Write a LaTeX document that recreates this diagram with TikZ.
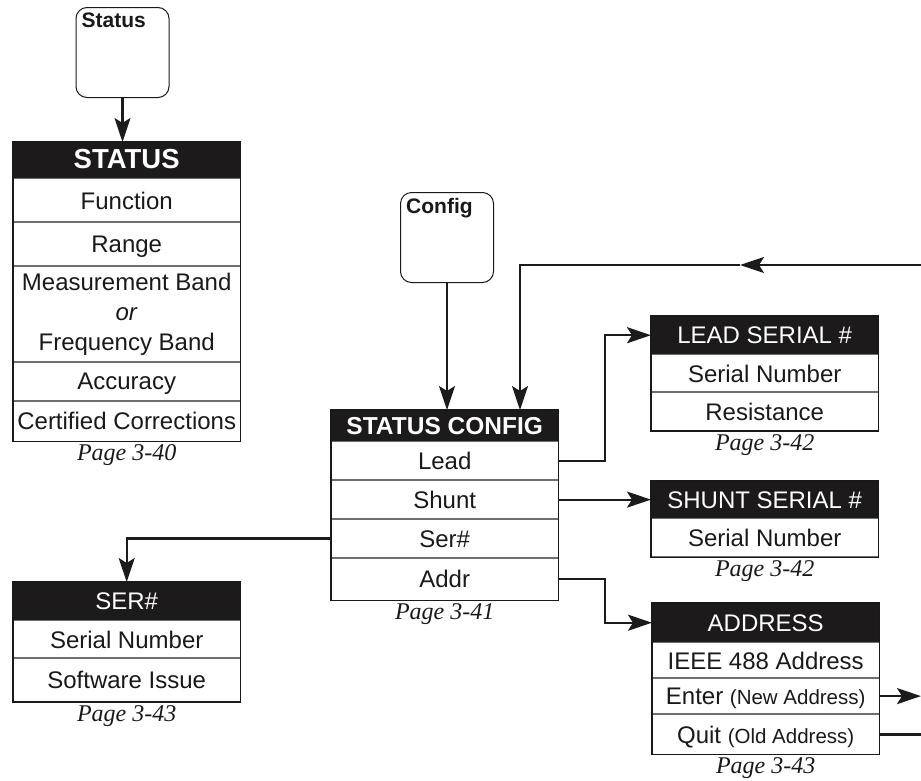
\documentclass[tikz,border=0pt]{standalone}
\usepackage{fontspec}
\setmainfont{Liberation Sans}
\newfontfamily\pagefont{Liberation Serif}
\usetikzlibrary{arrows.meta,positioning}
\definecolor{headblack}{RGB}{28,26,27}
\definecolor{textgray}{RGB}{25,25,25}
\definecolor{rulegray}{RGB}{110,110,110}

\begin{document}
\begin{tikzpicture}[x=1pt,y=-1pt,node distance=0pt,
  keybox/.style={draw=textgray,line width=1pt,rounded corners=11pt,minimum width=93pt,minimum height=90pt,inner sep=0pt},
  keytext/.style={anchor=north west,inner sep=0pt,text=textgray,font=\fontsize{21}{22}\selectfont\bfseries},
  menuhead/.style={fill=headblack,text=white,inner sep=0pt,minimum width=227pt,text height=17pt,text depth=0pt,font=\fontsize{24}{26}\selectfont},
  boldhead/.style={menuhead,font=\fontsize{24.5}{26}\selectfont\bfseries},
  menurow/.style={draw=rulegray,line width=0.8pt,inner sep=0pt,minimum width=227pt,text=textgray,font=\fontsize{24}{30}\selectfont},
  menuitem/.style={menurow,text height=17.5pt,text depth=0pt},
  menuframe/.style={draw=textgray,line width=1.1pt},
  pageref/.style={inner sep=0pt,text=textgray,font=\fontsize{24}{26}\pagefont\itshape},
  flow/.style={draw=headblack,line width=2.2pt,-{Stealth[length=24pt,width=16pt,inset=5pt]}},
  conn/.style={draw=headblack,line width=2.2pt},
]
  \useasboundingbox (0,0) rectangle (921,780);

  % keys
  \node[keybox] (statuskey) at (122.5,52.5) {};
  \node[keytext] (statuskeytext) at ([shift={(6,6)}]statuskey.north west) {Status};
  \node[keybox] (cfgkey) at (447,237.5) {};
  \node[keytext] (cfgkeytext) at ([shift={(6,6)}]cfgkey.north west) {Config};

  % STATUS
  \node[boldhead,font=\fontsize{27.5}{28}\selectfont\bfseries,anchor=north west,minimum height=36pt] (statushead) at (13,142) {STATUS};
  \node[menuitem,minimum height=43pt,below=of statushead] (statusfn) {Function};
  \node[menuitem,minimum height=43pt,below=of statusfn] (statusrange) {Range};
  \node[menurow,minimum height=95pt,align=center,below=of statusrange] (statusband) {Measurement Band\\\textit{or}\\Frequency Band};
  \node[menuitem,minimum height=38pt,below=of statusband] (statusacc) {Accuracy};
  \node[menuitem,minimum height=40pt,below=of statusacc] (statuscert) {Certified Corrections};
  \draw[menuframe] (statushead.north west) rectangle (statuscert.south east);
  \node[pageref,below=3pt of statuscert] (statuspage) {Page 3-40};

  % STATUS CONFIG
  \node[boldhead,anchor=north west,minimum height=31pt] (cfghead) at (331,410) {STATUS CONFIG};
  \node[menuitem,minimum height=38pt,below=of cfghead] (cfglead) {Lead};
  \node[menuitem,minimum height=38pt,below=of cfglead] (cfgshunt) {Shunt};
  \node[menuitem,minimum height=38pt,below=of cfgshunt] (cfgser) {Ser\#};
  \node[menuitem,minimum height=42pt,below=of cfgser] (cfgaddr) {Addr};
  \draw[menuframe] (cfghead.north west) rectangle (cfgaddr.south east);
  \node[pageref,below=3pt of cfgaddr] (cfgpage) {Page 3-41};

  % LEAD SERIAL #
  \node[menuhead,anchor=north west,minimum height=38pt] (leadhead) at (651,316) {LEAD SERIAL \#};
  \node[menuitem,minimum height=37pt,below=of leadhead] (leadser) {Serial Number};
  \node[menuitem,minimum height=38pt,below=of leadser] (leadres) {Resistance};
  \draw[menuframe] (leadhead.north west) rectangle (leadres.south east);
  \node[pageref,below=3pt of leadres] (leadpage) {Page 3-42};

  % SHUNT SERIAL #
  \node[menuhead,anchor=north west,minimum height=37pt] (shunthead) at (651,481) {SHUNT SERIAL \#};
  \node[menuitem,minimum height=38pt,below=of shunthead] (shuntser) {Serial Number};
  \draw[menuframe] (shunthead.north west) rectangle (shuntser.south east);
  \node[pageref,below=3pt of shuntser] (shuntpage) {Page 3-42};

  % ADDRESS
  \node[menuhead,anchor=north west,minimum height=39pt] (addrhead) at (652,603) {ADDRESS};
  \node[menuitem,minimum height=35pt,below=of addrhead] (addrieee) {IEEE 488 Address};
  \node[menuitem,minimum height=35pt,below=of addrieee] (addrenter) {Enter {\fontsize{20.5}{22}\selectfont(New Address)}};
  \node[menuitem,minimum height=40pt,below=of addrenter] (addrquit) {Quit {\fontsize{20.5}{22}\selectfont(Old Address)}};
  \draw[menuframe] (addrhead.north west) rectangle (addrquit.south east);
  \node[pageref,below=3pt of addrquit] (addrpage) {Page 3-43};

  % SER#
  \node[menuhead,anchor=north west,minimum height=38pt] (serhead) at (13,582) {SER\#};
  \node[menuitem,minimum height=37pt,below=of serhead] (serser) {Serial Number};
  \node[menuitem,minimum height=43pt,below=of serser] (sersoft) {Software Issue};
  \draw[menuframe] (serhead.north west) rectangle (sersoft.south east);
  \node[pageref,below=3pt of sersoft] (serpage) {Page 3-43};

  % connectors
  \coordinate (loopin) at (921,265);
  \coordinate (looptip) at (740,265);
  \coordinate (loopcorner) at (520,265);
  \draw[flow] (statuskey.south) -- (statuskey.south |- statushead.north);
  \draw[flow] (cfgkey.south) -- (cfgkey.south |- cfghead.north);
  \draw[flow] (loopin) -- (looptip);
  \draw[flow] (looptip) -- (loopcorner) -- (loopcorner |- cfghead.north);
  \draw[flow] (cfglead.east) -- ++(46,0) |- (leadhead.west);
  \draw[flow] (cfgshunt.east) -- (cfgshunt.east -| shunthead.west);
  \draw[flow] (cfgaddr.east) -- ++(46,0) |- (addrhead.west);
  \draw[flow] (cfgser.west) -| (serhead.north);
  \draw[flow] (addrenter.east) -- (addrenter.east -| loopin);
  \draw[conn] (addrquit.east) -- (addrquit.east -| loopin);
\end{tikzpicture}
\end{document}
